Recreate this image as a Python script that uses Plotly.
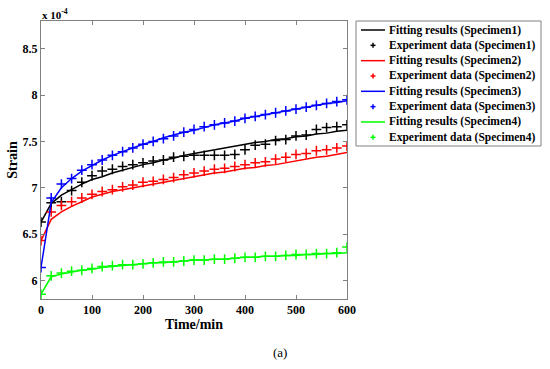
import plotly.graph_objects as go

time_min = [0, 20, 40, 60, 80, 100, 120, 140, 160, 180, 200, 220, 240, 260, 280, 300,
            320, 340, 360, 380, 400, 420, 440, 460, 480, 500, 520, 540, 560, 580, 600]

# strain values in units of 1e-4
fit_s1 = [6.63, 6.83, 6.92, 6.98, 7.04, 7.09, 7.12, 7.16, 7.19, 7.22, 7.25, 7.27, 7.30, 7.32, 7.35, 7.37,
          7.39, 7.41, 7.43, 7.45, 7.47, 7.49, 7.50, 7.52, 7.53, 7.55, 7.56, 7.58, 7.59, 7.61, 7.62]
exp_s1 = [6.63, 6.84, 6.85, 6.97, 7.06, 7.13, 7.18, 7.20, 7.23, 7.25, 7.27, 7.29, 7.30, 7.33, 7.34, 7.35,
          7.35, 7.35, 7.35, 7.36, 7.41, 7.46, 7.47, 7.51, 7.52, 7.56, 7.57, 7.63, 7.65, 7.66, 7.68]

fit_s2 = [6.43, 6.66, 6.74, 6.80, 6.85, 6.90, 6.93, 6.96, 6.98, 7.00, 7.02, 7.04, 7.06, 7.08, 7.10, 7.12,
          7.14, 7.16, 7.17, 7.19, 7.21, 7.22, 7.24, 7.25, 7.27, 7.29, 7.31, 7.33, 7.34, 7.36, 7.38]
exp_s2 = [6.43, 6.74, 6.81, 6.85, 6.89, 6.93, 6.96, 6.98, 7.01, 7.03, 7.06, 7.07, 7.09, 7.11, 7.14, 7.16,
          7.18, 7.20, 7.21, 7.23, 7.25, 7.27, 7.28, 7.31, 7.33, 7.36, 7.37, 7.40, 7.41, 7.43, 7.45]

fit_s3 = [6.14, 6.84, 7.00, 7.10, 7.18, 7.24, 7.30, 7.35, 7.39, 7.43, 7.47, 7.50, 7.54, 7.57, 7.60, 7.62,
          7.65, 7.68, 7.70, 7.72, 7.75, 7.77, 7.79, 7.81, 7.83, 7.85, 7.87, 7.89, 7.91, 7.92, 7.94]
exp_s3 = [6.14, 6.89, 7.04, 7.10, 7.19, 7.25, 7.30, 7.35, 7.39, 7.43, 7.47, 7.50, 7.53, 7.56, 7.60, 7.63,
          7.66, 7.68, 7.70, 7.72, 7.75, 7.77, 7.79, 7.81, 7.83, 7.85, 7.87, 7.89, 7.91, 7.93, 7.95]

fit_s4 = [5.85, 6.04, 6.07, 6.09, 6.11, 6.12, 6.14, 6.15, 6.16, 6.17, 6.18, 6.19, 6.19, 6.20, 6.21, 6.22,
          6.22, 6.23, 6.23, 6.24, 6.25, 6.25, 6.26, 6.26, 6.27, 6.27, 6.28, 6.28, 6.29, 6.29, 6.30]
exp_s4 = [5.85, 6.05, 6.08, 6.10, 6.11, 6.13, 6.15, 6.16, 6.17, 6.17, 6.18, 6.19, 6.20, 6.20, 6.21, 6.22,
          6.22, 6.23, 6.23, 6.24, 6.25, 6.25, 6.26, 6.26, 6.27, 6.28, 6.28, 6.29, 6.29, 6.30, 6.36]

specimens = ["Specimen1", "Specimen2", "Specimen3", "Specimen4"]
colors = ["#000000", "#ff0000", "#0000ff", "#00ff00"]
fits = [fit_s1, fit_s2, fit_s3, fit_s4]
exps = [exp_s1, exp_s2, exp_s3, exp_s4]

x_ticks = [0, 100, 200, 300, 400, 500, 600]
y_ticks = [6, 6.5, 7, 7.5, 8, 8.5]
y_tick_text = ["6", "6.5", "7", "7.5", "8", "8.5"]

FONT = "Liberation Serif"
W, H = 550, 369
ML, MR, MT, MB = 41, 203, 21, 70
PW, PH = W - ML - MR, H - MT - MB


def px(x):
    return (x - ML) / PW


def py(y):
    return (H - MB - y) / PH


fig = go.Figure()
for name, col, f, e in zip(specimens, colors, fits, exps):
    fig.add_trace(go.Scatter(
        x=time_min, y=f, mode="lines", name=f"Fitting results ({name})",
        line=dict(color=col, width=1.5), showlegend=False))
    fig.add_trace(go.Scatter(
        x=time_min, y=e, mode="markers", name=f"Experiment data ({name})",
        marker=dict(symbol="cross-thin", size=7, line=dict(color=col, width=1.5), color=col),
        showlegend=False))

axis_common = dict(
    showline=True, linecolor="#808080", linewidth=1, mirror="ticks",
    ticks="inside", ticklen=4, tickcolor="#808080", showgrid=False, zeroline=False,
    tickfont=dict(family=FONT, size=12, color="black"), automargin=False,
)

fig.update_layout(
    width=W, height=H,
    margin=dict(l=ML, r=MR, t=MT, b=MB, autoexpand=False),
    paper_bgcolor="white", plot_bgcolor="white",
    showlegend=False,
    xaxis=dict(range=[0, 600], tickvals=x_ticks, ticktext=[f"<b>{t}</b>" for t in x_ticks],
               title=dict(text="<b>Time/min</b>", font=dict(family=FONT, size=14, color="black"), standoff=2),
               **axis_common),
    yaxis=dict(range=[5.8, 8.8], tickvals=y_ticks, ticktext=[f"<b>{t}</b>" for t in y_tick_text],
               title=dict(text="<b>Strain</b>", font=dict(family=FONT, size=14, color="black"), standoff=1),
               **axis_common),
)

# manual legend (MATLAB-style compact box)
shapes = [dict(type="rect", xref="paper", yref="paper", x0=px(356), x1=px(541), y0=py(146), y1=py(21),
               line=dict(color="#808080", width=1), fillcolor="white", layer="above")]
annotations = []
row_y = 30.0
for name, col in zip(specimens, colors):
    shapes.append(dict(type="line", xref="paper", yref="paper", x0=px(361), x1=px(385),
                       y0=py(row_y), y1=py(row_y), line=dict(color=col, width=1.5), layer="above"))
    annotations.append(dict(x=px(387), y=py(row_y), xref="paper", yref="paper", xanchor="left",
                            yanchor="middle", showarrow=False, text=f"<b>Fitting results ({name})</b>",
                            font=dict(family=FONT, size=11.5, color="black")))
    row_y += 15.33
    shapes.append(dict(type="line", xref="paper", yref="paper", x0=px(370.5), x1=px(375.5),
                       y0=py(row_y), y1=py(row_y), line=dict(color=col, width=1.5), layer="above"))
    shapes.append(dict(type="line", xref="paper", yref="paper", x0=px(373), x1=px(373),
                       y0=py(row_y - 2.5), y1=py(row_y + 2.5), line=dict(color=col, width=1.5), layer="above"))
    annotations.append(dict(x=px(387), y=py(row_y), xref="paper", yref="paper", xanchor="left",
                            yanchor="middle", showarrow=False, text=f"<b>Experiment data ({name})</b>",
                            font=dict(family=FONT, size=11.5, color="black")))
    row_y += 15.33

annotations.append(dict(x=0, y=1.0, xref="paper", yref="paper", xanchor="left", yanchor="bottom",
                        text="<b>x 10<sup>-4</sup></b>", showarrow=False,
                        font=dict(family=FONT, size=11, color="black"), xshift=-1, yshift=-2))
annotations.append(dict(x=px(280), y=py(352), xref="paper", yref="paper", text="(a)", showarrow=False,
                        xanchor="center", yanchor="middle",
                        font=dict(family=FONT, size=13, color="black")))

fig.update_layout(shapes=shapes, annotations=annotations)

fig.write_html("out.html", config={"displayModeBar": False},
               post_script="document.body.style.margin='0';document.body.style.padding='0';"
                           "document.body.style.overflow='hidden';")
